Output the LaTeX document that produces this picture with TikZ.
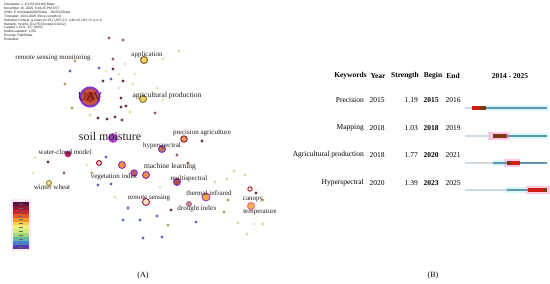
\documentclass[tikz,border=0pt]{standalone}
\usepackage{fontspec}
\setmainfont{Liberation Serif}
\newfontfamily\infofont{Liberation Sans}
\usetikzlibrary{backgrounds}
\definecolor{cdk}{RGB}{105,50,75}
\definecolor{cly}{RGB}{232,230,185}
\definecolor{clg}{RGB}{205,225,160}
\definecolor{ctn}{RGB}{185,160,110}
\definecolor{cbl}{RGB}{95,105,205}
\definecolor{cbr}{RGB}{150,100,95}
\definecolor{edgec}{RGB}{238,205,222}
\definecolor{haloc}{RGB}{250,190,235}
\definecolor{ringp}{RGB}{130,50,210}
\definecolor{wmark}{RGB}{252,249,238}
\definecolor{lblc}{RGB}{40,30,30}
\definecolor{barg}{RGB}{205,218,228}
\definecolor{bart}{RGB}{95,150,180}
\definecolor{barc}{RGB}{215,250,252}
\definecolor{barr}{RGB}{210,30,20}
\definecolor{barb}{RGB}{125,60,15}
\definecolor{barp}{RGB}{255,200,232}
\tikzset{
  sdot/.style={circle,inner sep=0pt,minimum size=3.3pt},
  ringnode/.style={circle,inner sep=0pt,minimum size=#1,line width=0.9pt},
  lbl/.style={text=lblc,font=\fontsize{7}{8}\selectfont,inner sep=0pt},
  tbl/.style={font=\fontsize{7.5}{9}\selectfont,inner sep=0pt},
  tbh/.style={font=\fontsize{7.5}{9}\selectfont\bfseries,inner sep=0pt},
  lnk/.style={draw=edgec,line width=0.35pt},
  halo/.style={fill=haloc,opacity=0.45},
  captxt/.style={font=\fontsize{8}{9}\selectfont,inner sep=0pt}
}
\begin{document}
\begin{tikzpicture}[x=1pt,y=-1pt]
\useasboundingbox (0,0) rectangle (550,284);
\fill[white] (0,0) rectangle (550,284);

% ---------- left panel : network ----------
\foreach \x/\y/\c [count=\i] in {
 109/38/cbr,123/40/cbr,113/59/cbr,125/64/cly,179/51/clg,163/59/cly,70/71/cbl,99/68/cbl,
 106/71/cly,113/69/cdk,119/74/cly,135/74/cly,65/84/ctn,103/81/cdk,111/79/cbl,123/81/cdk,
 119/88/cly,133/84/cly,157/88/cly,121/98/cdk,163/100/cly,121/107/cdk,126/106/cdk,130/112/clg,
 155/113/cbr,72/108/ctn,90/115/clg,98/118/cdk,107/119/cdk,115/117/cdk,122/120/cdk,
 48/162/cdk,35/158/cly,33/173/cly,64/173/cbr,87/165/cly,106/157/cbl,92/173/ctn,98/185/cbl,
 111/184/cbl,177/155/cbr,188/163/cbr,215/182/clg,227/179/clg,234/171/clg,245/175/clg,
 228/200/ctn,224/212/ctn,263/200/ctn,238/223/clg,247/234/clg,254/224/cly,263/224/clg,
 196/222/cbl,171/210/cdk,168/225/ctn,160/187/cly,115/197/cly,128/208/cbl,123/220/cbl,
 140/220/cbl,157/216/cbl,143/238/cbl,162/237/cbl,202/141/cdk,256/193/cdk,75/61/ctn}
 { \node[sdot,fill=\c] (s\i) at (\x,\y) {}; }

\node[ringnode=19pt,fill={rgb,255:red,200;green,85;blue,55},draw=ringp,line width=2pt] (uav) at (90,97) {};
\node[ringnode=7pt,fill={rgb,255:red,240;green,215;blue,95},draw={rgb,255:red,120;green,80;blue,40}] (app) at (144,60) {};
\node[ringnode=7pt,fill={rgb,255:red,240;green,215;blue,95},draw={rgb,255:red,140;green,110;blue,50}] (agp) at (143,99) {};
\node[ringnode=9pt,fill={rgb,255:red,160;green,70;blue,200},draw={rgb,255:red,200;green,80;blue,220}] (soil) at (113,138) {};
\node[ringnode=6.5pt,fill={rgb,255:red,235;green,150;blue,90},draw={rgb,255:red,150;green,30;blue,50}] (prec) at (184,139) {};
\node[ringnode=7pt,fill={rgb,255:red,190;green,110;blue,90},draw=ringp] (hyp) at (162,149) {};
\node[ringnode=6pt,fill={rgb,255:red,170;green,30;blue,70},draw={rgb,255:red,210;green,60;blue,170}] (wcm) at (68,154) {};
\node[ringnode=5pt,fill={rgb,255:red,240;green,200;blue,200},draw={rgb,255:red,150;green,20;blue,50}] (rr1) at (99,163) {};
\node[ringnode=7pt,fill={rgb,255:red,240;green,150;blue,60},draw=ringp] (po1) at (122,165) {};
\node[ringnode=7pt,fill={rgb,255:red,235;green,140;blue,60},draw=ringp] (ml) at (146,175) {};
\node[ringnode=6.5pt,fill={rgb,255:red,200;green,90;blue,80},draw=ringp] (vi) at (134,173) {};
\node[ringnode=7pt,fill={rgb,255:red,170;green,80;blue,70},draw=ringp] (ms) at (177,182) {};
\node[ringnode=5pt,fill={rgb,255:red,245;green,235;blue,160},draw={rgb,255:red,150;green,130;blue,60}] (ww) at (49,183) {};
\node[ringnode=7pt,fill={rgb,255:red,245;green,225;blue,200},draw={rgb,255:red,150;green,30;blue,60}] (rs) at (146,202) {};
\node[ringnode=8pt,fill={rgb,255:red,245;green,170;blue,60},draw={rgb,255:red,160;green,60;blue,200}] (ti) at (206,197) {};
\node[ringnode=5pt,fill={rgb,255:red,200;green,130;blue,150},draw={rgb,255:red,170;green,110;blue,130}] (di) at (189,204) {};
\node[ringnode=7pt,fill={rgb,255:red,245;green,180;blue,70},draw={rgb,255:red,230;green,100;blue,150}] (ct) at (251,206) {};
\node[ringnode=4.5pt,fill={rgb,255:red,245;green,220;blue,210},draw={rgb,255:red,160;green,40;blue,50}] (ctr) at (250,189) {};
\node[circle,inner sep=0pt,minimum size=11pt,fill={rgb,255:red,175;green,55;blue,40}] (uavc) at (90,97) {};

\begin{scope}[on background layer]
  \fill[wmark] (0,150) -- (280,135) -- (280,255) -- (0,262) -- cycle;
  \fill[halo] (uav) circle (17);
  \foreach \n/\r in {soil/9,wcm/6,po1/6,ml/7,vi/6,ms/7,hyp/6,ti/8,rs/7,ct/7,prec/5.5,di/5} { \fill[halo] (\n) circle (\r); }
  \foreach \i in {1,...,31,67} { \draw[lnk] (uav) -- (s\i); }
  \foreach \n in {app,agp,soil,hyp,prec} { \draw[lnk] (uav) -- (\n); }
  \foreach \i in {32,...,40,57,58} { \draw[lnk] (soil) -- (s\i); }
  \foreach \n in {wcm,vi,po1,rr1,ml,ww,rs} { \draw[lnk] (soil) -- (\n); }
  \foreach \n in {hyp,ms,rs,ti,di} { \draw[lnk] (ml) -- (\n); }
  \foreach \i in {41,42,65} { \draw[lnk] (prec) -- (s\i); }
  \foreach \i in {43,...,53,66} { \draw[lnk] (ti) -- (s\i); }
  \draw[lnk] (ti) -- (ct); \draw[lnk] (ti) -- (ctr); \draw[lnk] (ct) -- (ctr);
  \foreach \i in {32,33,34,35} { \draw[lnk] (ww) -- (s\i); }
  \draw[lnk] (wcm) -- (ww);
  \foreach \a/\b in {59/60,59/61,60/61,61/62,60/63,61/63,61/64,62/64,63/64,59/62,60/64,62/63} {
    \draw[draw={rgb,255:red,200;green,215;blue,240},line width=0.3pt] (s\a) -- (s\b); }
  \foreach \i in {59,61,62,54,55,56} { \draw[lnk] (rs) -- (s\i); }
\end{scope}

\node[text={rgb,255:red,90;green,20;blue,20},font=\fontsize{12}{12}\selectfont,inner sep=0pt] (luav) at (90,97) {UAV};
\node[lbl] (lrsm) at (53,58) {remote sensing monitoring};
\node[lbl] (lapp) at (147,55) {application};
\node[lbl,font=\fontsize{7.5}{8}\selectfont] (lagp) at (167,96) {agricultural production};
\node[lbl,font=\fontsize{12}{12}\selectfont] (lsoil) at (110,136) {soil moisture};
\node[lbl] (lprec) at (202,133) {precision agriculture};
\node[lbl] (lhyp) at (162,146) {hyperspectral};
\node[lbl] (lwcm) at (65,152) {water-cloud model};
\node[lbl,font=\fontsize{7.5}{8}\selectfont] (lml) at (170,167) {machine learning};
\node[lbl] (lvi) at (114,177) {vegetation index};
\node[lbl] (lms) at (189,179) {multispectral};
\node[lbl] (lww) at (52,187) {winter wheat};
\node[lbl] (lrs) at (149,198) {remote sensing};
\node[lbl] (lti) at (209,193) {thermal infrared};
\node[lbl] (ldi) at (197,209) {drought index};
\node[lbl] (lcan) at (253,200) {canopy};
\node[lbl] (ltem) at (260,212) {temperature};

\node[anchor=north west,align=left,inner sep=0pt,text={rgb,255:red,30;green,30;blue,30},
  font=\infofont\fontsize{3.3}{3.9}\selectfont] (info) at (4,3) {%
CiteSpace, v. 6.3.R1 (64-bit) Basic\\
November 16, 2025, 8:16:25 PM CST\\
CNKI: E:\textbackslash cnki\textbackslash data\textbackslash 2025\textbackslash Data\quad 2025\textbackslash 11\textbackslash Data\\
Timespan: 2014-2025 (Slice Length=1)\\
Selection Criteria: g-index (k=25), LRF=2.5, L/N=10, LBY=5, e=1.0\\
Network: N=164, E=276 (Density=0.0212)\\
Largest 1 CCs: 157 (94\%)\\
Nodes Labeled: 1.0\%\\
Pruning: Pathfinder\\
Excluded:};

\fill[haloc,opacity=0.35] (11,199) rectangle (31,251);
\foreach \r/\g/\b [count=\k from 0] in {90/20/60,150/25/55,200/40/45,225/90/40,240/150/45,245/205/80,
  240/240/130,205/235/125,160/215/120,95/185/165,70/130/205,85/60/175} {
  \fill[fill={rgb,255:red,\r;green,\g;blue,\b}] (13,202+\k*3.9) rectangle (29,205.9+\k*3.9);
  \draw[black!60,line width=0.3pt] (19,203.95+\k*3.9) -- (23,203.95+\k*3.9);
}
\node[captxt] (capa) at (143,276) {(A)};

% ---------- right panel : burst table ----------
\node[tbh,anchor=east] (hkw) at (367,76) {Keywords};
\node[tbh] (hyr) at (378,76) {Year};
\node[tbh] (hst) at (405,76) {Strength};
\node[tbh] (hbg) at (433,76) {Begin};
\node[tbh] (hen) at (453,76) {End};
\node[tbh] (hrg) at (510,76) {2014 - 2025};

\foreach \kw/\yr/\st/\bg/\en/\y [count=\i] in {
  Precision/2015/1.19/2015/2016/100,
  Mapping/2018/1.03/2018/2019/128,
  Agricultural production/2018/1.77/2020/2021/155,
  Hyperspectral/2020/1.39/2023/2025/183} {
  \node[tbl,anchor=east] (k\i) at (364,\y) {\kw};
  \node[tbl] (y\i) at (377,\y) {\yr};
  \node[tbl,anchor=east] (st\i) at (418,\y) {\st};
  \node[tbl,font=\fontsize{7.5}{9}\selectfont\bfseries] (b\i) at (431,\y) {\bg};
  \node[tbl] (e\i) at (453,\y) {\en};
}

\fill[barc] (486,105) rectangle (548,111);
\draw[barg,line width=1.8pt] (465,108) -- (472,108);
\draw[bart,line width=1.8pt] (486,108) -- (547,108);
\fill[barr] (472,105.6) rectangle (486,110.4);
\fill[barb] (480,106.3) rectangle (486,109.7);

\fill[barp] (488,132) rectangle (510,140);
\fill[barc] (512,133) rectangle (548,139);
\draw[barg,line width=1.8pt] (465,136) -- (493,136);
\draw[bart,line width=1.8pt] (507,136) -- (547,136);
\fill[barr] (493,133.6) rectangle (507,138.4);
\fill[barb] (494,134.2) rectangle (506,137.8);

\fill[barc] (493,160) rectangle (505,166);
\fill[barp] (504,159) rectangle (520,167);
\draw[barg,line width=1.8pt] (465,163) -- (493,163);
\draw[bart,line width=1.8pt] (493,163) -- (507,163);
\draw[bart,line width=1.8pt] (520,163) -- (547,163);
\fill[barr] (507,160.6) rectangle (520,165.4);
\fill[barb] (507,161.2) rectangle (511,164.8);

\fill[barc] (505,187) rectangle (528,193);
\fill[barp] (526,186) rectangle (550,194);
\draw[barg,line width=1.8pt] (465,190) -- (507,190);
\draw[bart,line width=1.8pt] (507,190) -- (528,190);
\fill[barr] (528,187.6) rectangle (547,192.4);
\fill[barb] (544,188.2) rectangle (547,191.8);

\node[captxt] (capb) at (433,276) {(B)};
\end{tikzpicture}
\end{document}
